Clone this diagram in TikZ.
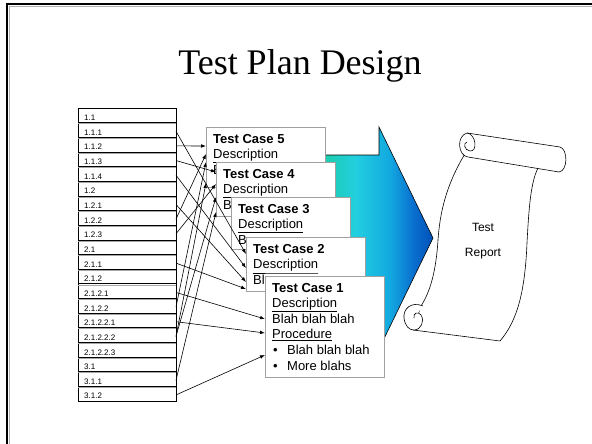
\documentclass[tikz,border=0pt]{standalone}
\usepackage{fontspec}
\setmainfont{Liberation Sans}
\newfontfamily\titleserif{Liberation Serif}
\usetikzlibrary{arrows.meta,calc}
\definecolor{arA}{HTML}{1CCDB0}
\definecolor{arB}{HTML}{22CFE0}
\definecolor{arC}{HTML}{12A8E0}
\definecolor{arD}{HTML}{0A70D0}
\definecolor{arE}{HTML}{0050B8}
\definecolor{boxgray}{HTML}{A0A0A0}
\pgfdeclarehorizontalshading{arrowshade}{100bp}{color(0bp)=(arA); color(38bp)=(arA); color(48bp)=(arB); color(60bp)=(arC); color(68bp)=(arD); color(75bp)=(arE); color(100bp)=(arE)}
\begin{document}
\begin{tikzpicture}[x=1pt,y=-1pt,
  rowtext/.style={font=\fontsize{8}{9}\selectfont, inner sep=0pt},
  tcbox/.style={draw=boxgray, line width=1.1pt, fill=white, inner sep=0pt, anchor=north west, minimum width=119},
  tctext/.style={font=\fontsize{13}{15.6}\selectfont, inner sep=0pt, align=left, anchor=base west},
  link/.style={line width=0.6pt, -{Latex[length=5pt,width=3.6pt]}},
  scrollline/.style={line width=0.6pt, fill=white}
]
\useasboundingbox (0,0) rectangle (592,444);
% slide frame
\draw[line width=1.8pt] (7,444) -- (7,4) -- (592,4);
\draw[gray!60, line width=0.8pt] (9,444) -- (9,6) -- (592,6);
% title
\node[font=\titleserif\fontsize{36}{40}\selectfont, anchor=base, inner sep=0pt] (title) at (300,75) {Test Plan Design};
% table
\node[draw, line width=0.8pt, minimum width=98, minimum height=293, anchor=north west, inner sep=0pt] (tbl) at (78,108) {};
\foreach \i in {1,...,19} {
  \draw[gray!70, line width=0.6pt] (78,108+14.65*\i+1) -- (176,108+14.65*\i+1);
  \draw[line width=0.7pt] (78,108+14.65*\i) -- (176,108+14.65*\i);
}
\foreach \lab [count=\i from 0] in {1.1,1.1.1,1.1.2,1.1.3,1.1.4,1.2,1.2.1,1.2.2,1.2.3,2.1,2.1.1,2.1.2,2.1.2.1,2.1.2.2,2.1.2.2.1,2.1.2.2.2,2.1.2.2.3,3.1,3.1.1,3.1.2} {
  \node[rowtext, anchor=base west] (l\i) at (84,108+14.65*\i+12.6) {\lab};
  \coordinate (r\i) at (176,108+14.65*\i+8.6);
}
% big block arrow
\shade[shading=arrowshade] (290,155) -- (379,155) -- (379,127) -- (433,238) -- (379,349) -- (379,321) -- (290,321) -- cycle;
\draw[line width=0.6pt] (290,155) -- (379,155) -- (379,127) -- (433,238) -- (379,349) -- (379,321) -- (290,321);
% test case boxes (base anchor = baseline of last line)
\node[tcbox, minimum height=60] (tc5) at (206,127) {};
\begin{scope}
\clip (206,127) -- (325,127) -- (325,162) -- (216,162) -- (216,187) -- (206,187) -- cycle;
\node[tctext] (tc5t) at (213,174.2) {\textbf{Test Case 5}\\\underline{Description}\\Blah blah blah};
\end{scope}
\node[tcbox, minimum height=54] (tc4) at (216,162) {};
\begin{scope}
\clip (216,162) -- (335,162) -- (335,197) -- (231,197) -- (231,216) -- (216,216) -- cycle;
\node[tctext] (tc4t) at (223,209.2) {\textbf{Test Case 4}\\\underline{Description}\\Blah blah blah};
\end{scope}
\node[tcbox, minimum height=52] (tc3) at (231,197) {};
\begin{scope}
\clip (231,197) -- (350,197) -- (350,233.5) -- (246,233.5) -- (246,249) -- (231,249) -- cycle;
\node[tctext] (tc3t) at (238,244.2) {\textbf{Test Case 3}\\\underline{Description}\\Blah blah blah};
\end{scope}
\node[tcbox, minimum height=54] (tc2) at (246,237) {};
\begin{scope}
\clip (246,237) -- (365,237) -- (365,273.5) -- (265,273.5) -- (265,291) -- (246,291) -- cycle;
\node[tctext] (tc2t) at (253,284.2) {\textbf{Test Case 2}\\\underline{Description}\\Blah blah blah};
\end{scope}
\node[tcbox, minimum height=101] (tc1) at (265,276) {};
\node[tctext] (tc1t) at (272,370) {\textbf{Test Case 1}\\\underline{Description}\\Blah blah blah\\\underline{Procedure}\\\hspace*{1pt}\makebox[14pt][l]{\textbullet}Blah blah blah\\\hspace*{1pt}\makebox[14pt][l]{\textbullet}More blahs};
% scroll
\draw[scrollline] (466,152) .. controls (446,185) and (440,212) .. (438,240) .. controls (436,272) and (430,292) .. (421,306) -- (413,330) -- (500,341) .. controls (518,320) and (525,290) .. (527,243) .. controls (529,205) and (531,182) .. (538,168) -- cycle;
\draw[scrollline] (423,306) .. controls (411,301) and (403,309) .. (404,318) .. controls (405,326) and (409,330) .. (414,330) .. controls (421,330) and (425,321) .. (421,315) .. controls (418,311) and (413,313) .. (414,318);
\draw[scrollline] (467,133) -- (560,147) .. controls (568,149) and (568,171) .. (559,172) -- (468,157) .. controls (458,156) and (456,136) .. (467,133) -- cycle;
\draw[line width=0.6pt] (467,133) .. controls (476,134) and (478,152) .. (470,151) .. controls (464,150) and (463,143) .. (467,142);
\node[font=\fontsize{12}{25}\selectfont, align=center, inner sep=0pt] (report) at (483,241) {Test\\Report};
% connectors
\coordinate (a1) at (246,254);
\coordinate (a2) at (206,146);
\coordinate (a3) at (216,172);
\coordinate (a4) at (246,268);
\coordinate (a6) at (246,282);
\coordinate (a7) at (206,154);
\coordinate (a8) at (216,184);
\coordinate (a10) at (246,289);
\coordinate (a12) at (265,319);
\coordinate (a13) at (206,162);
\coordinate (a14) at (265,333);
\coordinate (a15) at (206,183);
\coordinate (a15b) at (216,197);
\coordinate (a18) at (216,212);
\coordinate (a19) at (265,355);
\draw[link] (r1) -- (a1);
\draw[link] (r2) -- (a2);
\draw[link] (r3) -- (a3);
\draw[link] (r4) -- (a4);
\draw[link] (r6) -- (a6);
\draw[link] (r7) -- (a7);
\draw[link] (r8) -- (a8);
\draw[link] (r10) -- (a10);
\draw[link] (r12) -- (a12);
\draw[link] (r13) -- (a13);
\draw[link] (r14) -- (a14);
\draw[link] (r15) -- (a15);
\draw[link] (r15) -- (a15b);
\draw[link] (r18) -- (a18);
\draw[link] (r19) -- (a19);
\end{tikzpicture}
\end{document}
